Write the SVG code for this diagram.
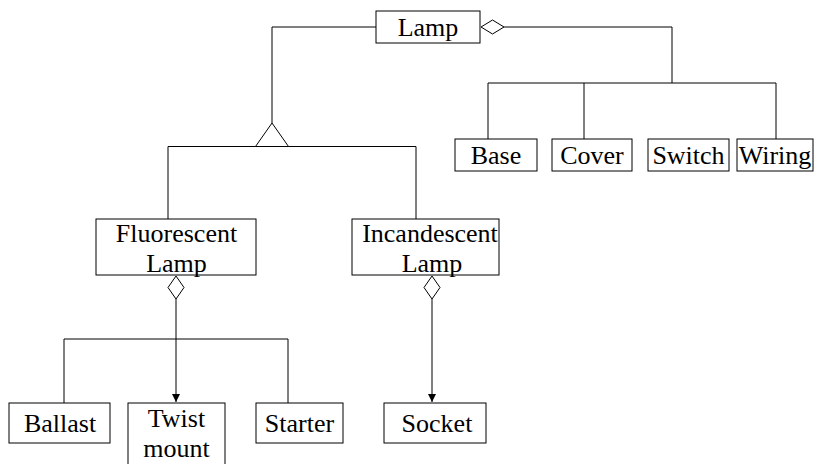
<svg xmlns="http://www.w3.org/2000/svg" width="819" height="464" viewBox="0 0 819 464">
  <style>
    .box { fill: #ffffff; stroke: #000000; stroke-width: 1; }
    .lbl { font-family: "Liberation Serif", "Times New Roman", serif; font-size: 26px; fill: #000000; text-anchor: middle; }
    .wire { fill: none; stroke: #000000; stroke-width: 1; }
    .agg { fill: #ffffff; stroke: #000000; stroke-width: 1; }
  </style>
  <defs>
    <marker id="arrow" viewBox="0 0 8 8" refX="8" refY="4" markerWidth="8" markerHeight="8" markerUnits="userSpaceOnUse" orient="auto">
      <path d="M0,0 L8,4 L0,8 Z" fill="#000000"/>
    </marker>
  </defs>
  <rect width="819" height="464" fill="#ffffff"/>

  <!-- connectors -->
  <g id="connectors">
    <!-- Lamp aggregates parts -->
    <path class="wire" d="M504,27 H672 V83"/>
    <path class="wire" d="M488,139 V83 H776 V139"/>
    <path class="wire" d="M584,83 V139"/>
    <polygon class="agg" points="481,27 492.5,20 504,27 492.5,34"/>
    <!-- generalisation -->
    <path class="wire" d="M376,27 H272 V123"/>
    <path class="wire" d="M168,219 V146.5 H416 V219"/>
    <polygon class="agg" points="272,123 288.5,146.5 255.5,146.5"/>
    <!-- Fluorescent lamp parts -->
    <polygon class="agg" points="176,276 184,287.5 176,299 168,287.5"/>
    <path class="wire" d="M176,299 V402" marker-end="url(#arrow)"/>
    <path class="wire" d="M64,403 V339 H288 V403"/>
    <!-- Incandescent lamp parts -->
    <polygon class="agg" points="432,276 440,287.5 432,299 424,287.5"/>
    <path class="wire" d="M432,299 V402" marker-end="url(#arrow)"/>
  </g>

  <g id="lamp">
    <rect class="box" x="376" y="11" width="104" height="32"/>
    <text class="lbl" x="428" y="36">Lamp</text>
  </g>
  <g id="base">
    <rect class="box" x="455" y="139" width="82" height="32"/>
    <text class="lbl" x="496" y="164">Base</text>
  </g>
  <g id="cover">
    <rect class="box" x="552" y="139" width="80" height="32"/>
    <text class="lbl" x="592" y="164">Cover</text>
  </g>
  <g id="switch">
    <rect class="box" x="648" y="139" width="81" height="32"/>
    <text class="lbl" x="688.5" y="164">Switch</text>
  </g>
  <g id="wiring">
    <rect class="box" x="737" y="139" width="76" height="32"/>
    <text class="lbl" x="775" y="164">Wiring</text>
  </g>
  <g id="fluorescent-lamp">
    <rect class="box" x="96" y="219" width="160" height="56"/>
    <text class="lbl" x="176.5" y="242">Fluorescent</text>
    <text class="lbl" x="176.5" y="272">Lamp</text>
  </g>
  <g id="incandescent-lamp">
    <rect class="box" x="352" y="219" width="147" height="56"/>
    <text class="lbl" x="430" y="242">Incandescent</text>
    <text class="lbl" x="432" y="272">Lamp</text>
  </g>
  <g id="ballast">
    <rect class="box" x="9" y="403" width="101" height="40"/>
    <text class="lbl" x="60" y="432">Ballast</text>
  </g>
  <g id="twist-mount">
    <rect class="box" x="128" y="403" width="97" height="70"/>
    <text class="lbl" x="176.5" y="427">Twist</text>
    <text class="lbl" x="176.5" y="457">mount</text>
  </g>
  <g id="starter">
    <rect class="box" x="256" y="403" width="87" height="40"/>
    <text class="lbl" x="299.5" y="432">Starter</text>
  </g>
  <g id="socket">
    <rect class="box" x="384" y="403" width="102" height="40"/>
    <text class="lbl" x="437" y="432">Socket</text>
  </g>
</svg>
